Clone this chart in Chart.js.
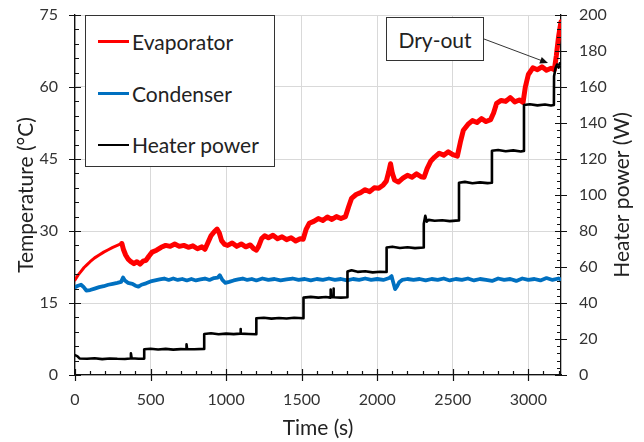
<!DOCTYPE html>
<html>
<head>
<meta charset="utf-8">
<script src="https://cdn.jsdelivr.net/npm/chart.js@4.4.0/dist/chart.umd.min.js"></script>
<style>
  html, body { margin: 0; padding: 0; background: #fff; }
  #wrap { position: relative; width: 644px; height: 442px; font-family: Lato, "Open Sans", sans-serif; }
  #c { position: absolute; left: 0; top: 0; }
  #legend { position: absolute; left: 85px; top: 15px; width: 190px; height: 152px; background: #fff; border: 1.3px solid #333; box-sizing: border-box; }
  .lg-row { position: absolute; left: 12px; height: 26px; display: flex; align-items: center; font-size: 21px; color: #222; white-space: nowrap; }
  .lg-line { width: 31px; margin-right: 3px; }
  #dryout { position: absolute; left: 386px; top: 17px; width: 98px; height: 44px; background: #fff; border: 1.3px solid #333; box-sizing: border-box; display: flex; align-items: center; justify-content: center; font-size: 21px; color: #222; }
</style>
</head>
<body>
<div id="wrap">
  <canvas id="c" width="644" height="442"></canvas>
  <div id="legend"></div>
  <div id="dryout"></div>
</div>
<script>
// ---------------- data ----------------
const seriesNames = ['Evaporator', 'Condenser', 'Heater power'];

// [time (s), temperature (°C)]
const evaporator = [
  [0,19.8],[20,20.8],[40,21.6],[60,22.4],[80,23.0],[100,23.6],[130,24.4],[160,25.0],[190,25.6],[220,26.1],
  [250,26.6],[280,27.0],[310,27.4],[320,26.2],[335,25.0],[350,24.2],[370,23.6],[390,23.2],[410,23.6],[430,23.1],
  [450,23.7],[470,23.9],[490,24.8],[510,25.6],[540,26.0],[570,26.6],[600,27.0],[630,26.8],[660,27.3],[690,26.8],
  [720,27.0],[750,26.6],[780,26.9],[810,26.3],[840,26.7],[860,26.2],[880,27.6],[900,29.0],[920,29.8],[940,30.4],
  [955,29.6],[970,28.0],[990,27.2],[1010,27.0],[1040,27.5],[1070,26.8],[1100,27.3],[1130,26.7],[1160,27.1],[1180,26.4],
  [1200,26.0],[1215,26.8],[1235,28.4],[1255,29.0],[1280,28.6],[1310,29.1],[1340,28.4],[1370,28.8],[1400,28.2],[1430,28.6],
  [1460,27.9],[1490,28.4],[1510,28.3],[1530,30.4],[1550,31.6],[1580,32.0],[1610,32.6],[1640,32.2],[1670,32.9],[1700,32.4],
  [1730,33.0],[1760,32.6],[1790,33.0],[1810,35.0],[1830,36.8],[1860,37.6],[1890,38.0],[1920,38.6],[1950,38.2],[1980,39.0],
  [2010,38.9],[2040,39.6],[2060,40.4],[2075,42.2],[2088,44.0],[2100,42.0],[2115,40.6],[2140,40.2],[2170,41.0],[2200,41.6],
  [2230,41.2],[2260,41.9],[2290,41.3],[2310,41.2],[2330,43.0],[2355,44.6],[2380,45.4],[2410,46.2],[2440,45.8],[2470,46.5],
  [2500,45.9],[2530,45.6],[2550,48.5],[2570,51.0],[2600,52.2],[2630,53.0],[2660,52.6],[2690,53.4],[2720,52.8],[2750,53.2],
  [2770,54.6],[2790,56.6],[2820,57.2],[2850,57.0],[2880,57.8],[2910,56.9],[2940,57.3],[2965,56.8],[2980,60.0],[3000,62.6],
  [3030,64.0],[3060,63.6],[3090,64.2],[3120,63.5],[3150,63.9],[3172,63.6],[3185,66.5],[3200,70.5],[3216,73.6]
];

// [time (s), temperature (°C)]
const condenser = [
  [0,18.3],[20,18.6],[40,18.8],[55,18.4],[75,17.6],[100,17.7],[130,18.0],[160,18.3],[190,18.5],[220,18.8],
  [250,19.0],[280,19.2],[305,19.4],[318,20.3],[330,19.7],[350,19.2],[380,19.0],[400,18.6],[420,18.4],[440,18.8],
  [470,19.1],[500,19.5],[530,19.7],[560,19.9],[590,20.1],[620,19.8],[650,20.1],[680,19.8],[710,20.0],[740,19.7],
  [770,20.0],[800,19.7],[830,19.9],[860,20.1],[890,19.8],[920,20.2],[945,20.3],[958,20.8],[975,19.8],[995,19.2],
  [1020,19.4],[1050,19.7],[1080,19.9],[1110,20.1],[1140,19.8],[1170,20.0],[1200,19.7],[1240,20.1],[1280,19.8],[1320,20.0],
  [1360,19.7],[1400,19.9],[1440,20.1],[1480,19.8],[1520,20.0],[1560,19.7],[1600,20.0],[1640,19.8],[1680,20.1],[1720,19.8],
  [1760,20.0],[1800,19.7],[1840,20.0],[1880,19.8],[1920,20.1],[1960,19.8],[2000,20.0],[2040,19.8],[2080,20.2],[2095,20.6],
  [2105,19.4],[2118,17.9],[2130,18.4],[2145,19.3],[2165,19.8],[2200,20.0],[2240,19.8],[2280,20.0],[2320,19.7],[2360,20.0],
  [2400,19.8],[2440,20.1],[2480,19.7],[2520,20.0],[2560,19.8],[2600,20.1],[2640,19.7],[2680,20.0],[2720,19.8],[2760,19.6],
  [2800,20.1],[2840,19.8],[2880,20.0],[2920,19.6],[2960,20.1],[3000,19.8],[3040,20.0],[3080,19.7],[3120,20.2],[3160,19.8],
  [3200,20.1],[3216,19.9]
];

// [time (s), heater power (W)]
const heaterPower = [
  [0,11.0],[15,10.5],[30,9.2],[80,9.0],[130,9.3],[180,8.8],[230,9.2],[280,9.0],[330,8.9],[365,9.2],[370,12.0],[375,9.3],[420,9.0],[457,9.1],
  [458,14.3],[500,14.6],[550,14.2],[600,14.5],[650,14.1],[700,14.4],[735,14.3],[738,17.0],[742,14.4],[790,14.3],[854,14.5],
  [855,22.8],[900,23.2],[950,22.6],[1000,23.0],[1050,22.7],[1093,23.0],[1095,25.5],[1098,23.0],[1150,22.8],[1199,22.6],
  [1200,31.5],[1250,31.8],[1300,31.3],[1350,31.7],[1400,31.4],[1450,31.8],[1511,31.5],
  [1512,43.0],[1560,43.4],[1610,43.0],[1660,43.3],[1690,43.0],[1692,47.5],[1695,43.3],[1708,43.2],[1710,48.0],[1713,43.2],[1760,43.0],[1802,43.2],
  [1803,57.5],[1830,58.2],[1870,57.3],[1920,57.6],[1970,57.0],[2020,57.4],[2061,57.2],
  [2062,70.8],[2100,71.3],[2150,70.6],[2200,71.0],[2250,70.5],[2307,70.8],
  [2308,84.0],[2318,88.5],[2328,85.2],[2340,86.2],[2380,85.7],[2430,86.0],[2480,85.5],[2540,85.9],
  [2541,106.8],[2580,107.3],[2630,106.5],[2680,107.0],[2730,106.6],[2758,106.8],
  [2759,124.6],[2800,125.0],[2850,124.3],[2900,124.8],[2950,124.2],[2970,124.5],
  [2971,150.0],[3010,150.4],[3060,149.8],[3110,150.3],[3150,149.7],[3169,150.0],
  [3170,166.0],[3180,170.5],[3190,172.5],[3200,170.8],[3208,173.2],[3216,171.5]
];

const xTicks = [0, 500, 1000, 1500, 2000, 2500, 3000];
const tempTicks = [0, 15, 30, 45, 60, 75];
const powerTicks = [0, 20, 40, 60, 80, 100, 120, 140, 160, 180, 200];
const timeMax = 3216;

const dryOutLabel = 'Dry-out';
const dryOutTip = [3130, 65];   // [time, temperature] where the arrow points

// ---------------- chart ----------------
const FONT = 'Lato, "Open Sans", sans-serif';
const toXY = arr => arr.map(p => ({ x: p[0], y: p[1] }));
const noPad = s => { s.paddingTop = 0; s.paddingBottom = 0; };

const axisTicks = {
  id: 'axisTicks',
  afterDraw(chart) {
    const { ctx, chartArea: a, scales: { x, y, y1 } } = chart;
    ctx.save();
    ctx.strokeStyle = '#111';
    ctx.lineWidth = 1.2;
    ctx.beginPath();
    for (let v = 0; v <= timeMax; v += 100) {
      const px = Math.round(x.getPixelForValue(v)) + 0.5;
      if (v % 500 === 0) { ctx.moveTo(px, a.bottom - 6); ctx.lineTo(px, a.bottom + 6); }
      else { ctx.moveTo(px, a.bottom - 4); ctx.lineTo(px, a.bottom); }
    }
    for (let v = 0; v <= 75; v += 3) {
      const py = Math.round(y.getPixelForValue(v)) + 0.5;
      if (v % 15 === 0) { ctx.moveTo(a.left - 6, py); ctx.lineTo(a.left + 6, py); }
      else { ctx.moveTo(a.left, py); ctx.lineTo(a.left + 4, py); }
    }
    for (let v = 0; v <= 200; v += 4) {
      const py = Math.round(y1.getPixelForValue(v)) + 0.5;
      if (v % 20 === 0) { ctx.moveTo(a.right - 6, py); ctx.lineTo(a.right + 6, py); }
      else { ctx.moveTo(a.right - 4, py); ctx.lineTo(a.right, py); }
    }
    ctx.stroke();

    // right axis title, reading bottom-to-top
    ctx.fillStyle = '#222';
    ctx.font = '21px ' + FONT;
    ctx.textAlign = 'center';
    ctx.textBaseline = 'middle';
    ctx.translate(622, (a.top + a.bottom) / 2);
    ctx.rotate(-Math.PI / 2);
    ctx.fillText('Heater power (W)', 0, 0);
    ctx.restore();

    // dry-out arrow
    const box = document.getElementById('dryout');
    const sx = box.offsetLeft + box.offsetWidth;
    const sy = box.offsetTop + 22;
    const tx = x.getPixelForValue(dryOutTip[0]);
    const ty = y.getPixelForValue(dryOutTip[1]);
    const ang = Math.atan2(ty - sy, tx - sx);
    ctx.save();
    ctx.strokeStyle = '#333';
    ctx.fillStyle = '#111';
    ctx.lineWidth = 1;
    ctx.beginPath();
    ctx.moveTo(sx, sy);
    ctx.lineTo(tx - 6 * Math.cos(ang), ty - 6 * Math.sin(ang));
    ctx.stroke();
    ctx.beginPath();
    ctx.moveTo(tx, ty);
    ctx.lineTo(tx - 8 * Math.cos(ang) + 3.5 * Math.sin(ang), ty - 8 * Math.sin(ang) - 3.5 * Math.cos(ang));
    ctx.lineTo(tx - 8 * Math.cos(ang) - 3.5 * Math.sin(ang), ty - 8 * Math.sin(ang) + 3.5 * Math.cos(ang));
    ctx.closePath();
    ctx.fill();
    ctx.restore();
  }
};

const colors = ['#ff0000', '#0070c0', '#000000'];

const chart = new Chart(document.getElementById('c'), {
  type: 'line',
  data: {
    datasets: [
      { label: seriesNames[0], data: toXY(evaporator), yAxisID: 'y', borderColor: colors[0], order: 1,
        borderWidth: 5, segment: { borderWidth: c => c.p0.parsed.x < 310 ? 3 : 5 } },
      { label: seriesNames[1], data: toXY(condenser), yAxisID: 'y', borderColor: colors[1], order: 2, borderWidth: 3.8 },
      { label: seriesNames[2], data: toXY(heaterPower), yAxisID: 'y1', borderColor: colors[2], order: 0, borderWidth: 2.6 }
    ]
  },
  options: {
    responsive: false,
    animation: false,
    elements: { point: { radius: 0 }, line: { tension: 0, borderJoinStyle: 'round', borderCapStyle: 'round' } },
    layout: { padding: { top: 15, left: 0, right: 0, bottom: 0 } },
    plugins: { legend: { display: false }, tooltip: { enabled: false } },
    scales: {
      x: {
        type: 'linear', position: 'bottom', min: 0, max: timeMax,
        afterBuildTicks: s => { s.ticks = xTicks.map(v => ({ value: v })); },
        afterFit: s => { s.height = 67; s.paddingLeft = 0; s.paddingRight = 0; },
        grid: { color: '#d9d9d9', lineWidth: 1, drawTicks: false },
        border: { color: '#111', width: 1.3 },
        ticks: { font: { family: FONT, size: 16 }, color: '#333', padding: 15, maxRotation: 0, autoSkip: false,
                 callback: v => String(v) },
        title: { display: true, text: 'Time (s)', font: { family: FONT, size: 21 }, color: '#222', padding: { top: 0, bottom: 1 } }
      },
      y: {
        type: 'linear', position: 'left', min: 0, max: 75,
        afterBuildTicks: s => { s.ticks = tempTicks.map(v => ({ value: v })); },
        afterFit: s => { s.width = 75; noPad(s); },
        grid: { color: '#d9d9d9', lineWidth: 1, drawTicks: false },
        border: { color: '#111', width: 1.3 },
        ticks: { font: { family: FONT, size: 16 }, color: '#333', padding: 17, callback: v => String(v) },
        title: { display: true, text: 'Temperature (°C)', font: { family: FONT, size: 21 }, color: '#222', padding: { top: 14, bottom: 0 } }
      },
      y1: {
        type: 'linear', position: 'right', min: 0, max: 200,
        afterBuildTicks: s => { s.ticks = powerTicks.map(v => ({ value: v })); },
        afterFit: s => { s.width = 83; noPad(s); },
        grid: { drawOnChartArea: false, drawTicks: false },
        border: { color: '#111', width: 1.3 },
        ticks: { font: { family: FONT, size: 16 }, color: '#333', padding: 18, callback: v => String(v) },
        title: { display: false }
      }
    }
  },
  plugins: [axisTicks]
});

// HTML legend built from the datasets
const legend = document.getElementById('legend');
chart.data.datasets.forEach((ds, i) => {
  const row = document.createElement('div');
  row.className = 'lg-row';
  row.style.top = (12.5 + i * 51.6) + 'px';
  const ln = document.createElement('span');
  ln.className = 'lg-line';
  ln.style.borderTop = (i === 2 ? 2.2 : 3) + 'px solid ' + ds.borderColor;
  const tx = document.createElement('span');
  tx.textContent = ds.label;
  row.appendChild(ln);
  row.appendChild(tx);
  legend.appendChild(row);
});
document.getElementById('dryout').textContent = dryOutLabel;
chart.draw();
</script>
</body>
</html>
